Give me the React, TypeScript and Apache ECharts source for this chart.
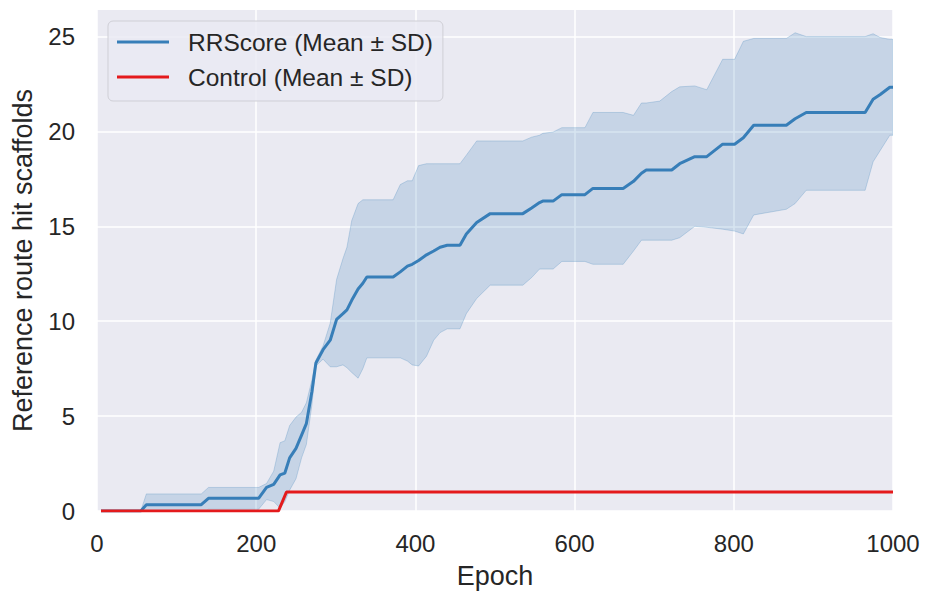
import React, { useEffect, useRef } from "react";
import * as echarts from "echarts";

// Epoch grid shared by the RRScore mean and SD band
const epochs = [5, 55, 62, 131, 140, 203, 213, 222, 230, 236, 242, 250, 257, 263, 270, 275, 284, 293, 301, 309, 314, 320, 328, 334, 339, 372, 381, 390, 396, 404, 414, 423, 431, 440, 456, 464, 477, 494, 535, 546, 556, 560, 573, 584, 613, 623, 661, 674, 684, 690, 707, 722, 732, 751, 766, 786, 801, 812, 825, 866, 877, 891, 965, 975, 984, 996, 1000];
const rrMean = [0, 0, 0.33, 0.33, 0.67, 0.67, 1.25, 1.4, 1.9, 2.0, 2.8, 3.3, 4.0, 4.6, 6.3, 7.8, 8.5, 9.0, 10.1, 10.4, 10.6, 11.1, 11.7, 12.0, 12.33, 12.33, 12.6, 12.9, 13.0, 13.2, 13.5, 13.7, 13.9, 14.0, 14.0, 14.6, 15.2, 15.67, 15.67, 15.97, 16.25, 16.33, 16.33, 16.67, 16.67, 17.0, 17.0, 17.37, 17.8, 17.97, 17.97, 17.97, 18.3, 18.67, 18.67, 19.33, 19.33, 19.67, 20.33, 20.33, 20.67, 21.0, 21.0, 21.7, 21.95, 22.33, 22.33];
const rrUpper = [0, 0, 0.9, 0.9, 1.24, 1.24, 1.45, 2.1, 3.6, 3.7, 4.5, 4.95, 5.2, 5.7, 6.9, 7.95, 8.7, 9.9, 12.2, 13.3, 13.9, 15.3, 16.2, 16.4, 16.4, 16.4, 17.2, 17.4, 17.4, 18.2, 18.3, 18.3, 18.3, 18.3, 18.3, 18.75, 19.5, 19.5, 19.5, 19.7, 19.8, 19.9, 19.97, 20.2, 20.2, 21.0, 21.0, 20.85, 21.5, 21.5, 21.6, 22.1, 22.35, 22.4, 22.2, 23.8, 23.8, 24.75, 24.9, 24.9, 25.2, 25.0, 25.0, 25.15, 24.95, 24.85, 24.85];
const rrLower = [0, 0, -0.24, -0.24, 0.09, 0.09, 0.6, 0.5, 0.15, 0.5, 1.1, 1.7, 2.8, 3.5, 5.6, 7.65, 8.0, 7.6, 7.6, 7.7, 7.55, 7.3, 7.0, 7.5, 8.07, 8.07, 8.07, 7.9, 7.7, 7.64, 8.16, 9.0, 9.4, 9.6, 9.6, 10.4, 11.2, 11.9, 11.9, 12.3, 12.75, 12.75, 12.75, 13.15, 13.15, 13.0, 13.0, 13.7, 14.27, 14.27, 14.27, 14.27, 14.4, 15.0, 14.95, 14.85, 14.75, 14.6, 15.6, 15.9, 16.2, 16.9, 16.9, 18.4, 19.0, 19.8, 19.8];

// Control series (SD is zero)
const ctrlEpochs = [5, 228, 238, 1000];
const ctrlMean = [0, 0, 1, 1];

const seriesNames = ["RRScore (Mean ± SD)", "Control (Mean ± SD)"];
const yTicks = [0, 5, 10, 15, 20, 25];

const BLUE = "#377eb8";
const RED = "#e41a1c";
const FONT = "'Liberation Sans', Arial, Helvetica, sans-serif";

export default function App() {
  const ref = useRef<HTMLDivElement>(null);

  useEffect(() => {
    document.body.style.margin = "0";
    const chart = echarts.init(ref.current!, null, { renderer: "svg" });

    const option: any = {
      animation: false,
      backgroundColor: "#ffffff",
      textStyle: { fontFamily: FONT },
      grid: {
        left: 97,
        top: 10,
        width: 796,
        height: 507,
        show: true,
        backgroundColor: "#eaeaf2",
        borderWidth: 0,
      },
      legend: {
        orient: "vertical",
        left: 108,
        top: 21,
        data: seriesNames.map((n) => ({ name: n, icon: "rect" })),
        itemWidth: 52,
        itemHeight: 3,
        itemGap: 9,
        padding: [8, 10, 11, 9],
        backgroundColor: "rgba(234,234,242,0.8)",
        borderColor: "#cfcfd6",
        borderWidth: 1,
        borderRadius: 5,
        textStyle: {
          fontSize: 24.5,
          lineHeight: 26,
          color: "#262626",
          fontFamily: FONT,
          padding: [0, 0, 0, 14],
        },
      },
      xAxis: {
        type: "value",
        min: 0,
        max: 1000,
        interval: 200,
        name: "Epoch",
        nameLocation: "middle",
        nameGap: 51,
        nameTextStyle: { fontSize: 27, color: "#262626", fontFamily: FONT },
        axisLine: { show: false },
        axisTick: { show: false },
        axisLabel: {
          fontSize: 24,
          color: "#262626",
          margin: 20,
          fontFamily: FONT,
          formatter: (v: number) => String(v),
        },
        splitLine: { show: true, lineStyle: { color: "#ffffff", width: 1.5 } },
      },
      yAxis: {
        type: "value",
        min: 0,
        max: 26.4,
        interval: 5,
        name: "Reference route hit scaffolds",
        nameLocation: "middle",
        nameGap: 61,
        nameTextStyle: { fontSize: 27, color: "#262626", fontFamily: FONT },
        axisLine: { show: false },
        axisTick: { show: false },
        axisLabel: {
          fontSize: 24,
          color: "#262626",
          margin: 22,
          fontFamily: FONT,
          formatter: (v: number) => (yTicks.includes(v) ? String(v) : ""),
        },
        splitLine: { show: true, showMaxLine: false, lineStyle: { color: "#ffffff", width: 1.5 } },
      },
      series: [
        {
          type: "custom",
          name: "band",
          silent: true,
          clip: true,
          z: 1,
          data: [[0, 0]],
          renderItem: (params: any, api: any) => {
            const pts: number[][] = [];
            for (let i = 0; i < epochs.length; i++) pts.push(api.coord([epochs[i], rrUpper[i]]));
            for (let i = epochs.length - 1; i >= 0; i--) pts.push(api.coord([epochs[i], rrLower[i]]));
            return {
              type: "polygon",
              shape: { points: pts },
              style: {
                fill: "rgba(55,126,184,0.2)",
                stroke: "rgba(55,126,184,0.25)",
                lineWidth: 1,
              },
            };
          },
        },
        {
          type: "line",
          name: seriesNames[0],
          data: epochs.map((e, i) => [e, rrMean[i]]),
          showSymbol: false,
          symbol: "none",
          z: 3,
          lineStyle: { color: BLUE, width: 3 },
          itemStyle: { color: BLUE },
        },
        {
          type: "line",
          name: seriesNames[1],
          data: ctrlEpochs.map((e, i) => [e, ctrlMean[i]]),
          showSymbol: false,
          symbol: "none",
          z: 4,
          lineStyle: { color: RED, width: 3 },
          itemStyle: { color: RED },
        },
      ],
    };

    chart.setOption(option);
    return () => chart.dispose();
  }, []);

  return <div ref={ref} style={{ width: 925, height: 594 }} />;
}
